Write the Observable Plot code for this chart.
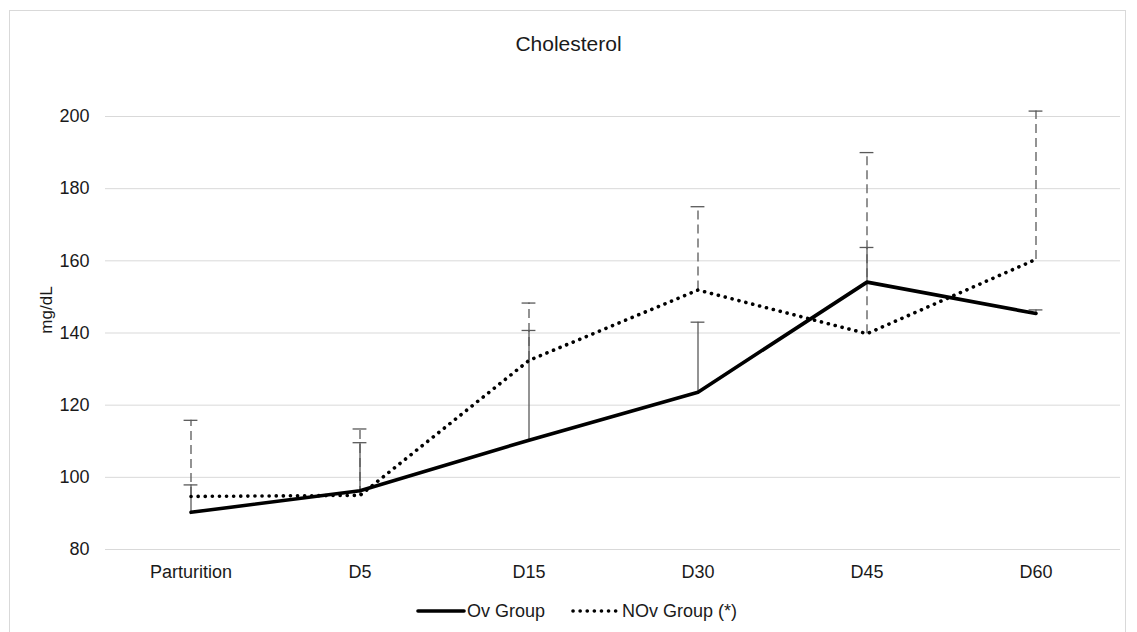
<!DOCTYPE html>
<html>
<head>
<meta charset="utf-8">
<script src="https://cdn.jsdelivr.net/npm/d3@7"></script>
<script src="https://cdn.jsdelivr.net/npm/@observablehq/plot@0.6"></script>
<style>
  html, body { margin: 0; padding: 0; background: #fff; }
  #wrap { position: relative; width: 1137px; height: 632px; overflow: hidden; font-family: "Liberation Sans", Arial, sans-serif; }
  #frame { position: absolute; left: 9px; top: 10px; width: 1117px; height: 640px; border: 1px solid #d9d9d9; box-sizing: border-box; pointer-events: none; }
  #title { position: absolute; left: 0; width: 1137px; top: 32px; text-align: center; font-size: 21px; color: #1a1a1a; }
  #ylab { position: absolute; left: 47px; top: 310px; transform: translate(-50%, -50%) rotate(-90deg); font-size: 17px; color: #1a1a1a; white-space: nowrap; }
  #legend { position: absolute; top: 599px; left: 0; width: 1137px; height: 24px; font-size: 18px; color: #1a1a1a; }
  .lg { position: absolute; top: 0; display: flex; align-items: center; height: 24px; }
  #chart { position: absolute; left: 0; top: 0; }
</style>
</head>
<body>
<div id="wrap">
  <div id="chart"></div>
  <div id="frame"></div>
  <div id="title">Cholesterol</div>
  <div id="ylab">mg/dL</div>
  <div id="legend"></div>
</div>
<script>
const categories = ["Parturition", "D5", "D15", "D30", "D45", "D60"];
const ovMean   = [90.3, 96.3, 110.3, 123.6, 154.1, 145.4];
const ovUpper  = [97.9, 109.6, 140.7, 143.0, 163.7, 146.4];
const novMean  = [94.7, 95.0, 132.4, 151.9, 139.8, 160.4];
const novUpper = [115.8, 113.4, 148.3, 175.0, 190.0, 201.5];
const yTicks = [80, 100, 120, 140, 160, 180, 200];
const seriesNames = ["Ov Group", "NOv Group (*)"];

const ov = categories.map((c, i) => ({cat: c, mean: ovMean[i], upper: ovUpper[i]}));
const nov = categories.map((c, i) => ({cat: c, mean: novMean[i], upper: novUpper[i]}));

const W = 1137, H = 632;
const mL = 105, mR = 17, mT = 116, mB = 83;
const bw = (W - mL - mR) / categories.length;
const capHalf = 7;
const capInset = bw / 2 - capHalf;

const chart = Plot.plot({
  width: W,
  height: H,
  marginLeft: mL,
  marginRight: mR,
  marginTop: mT,
  marginBottom: mB,
  style: {fontFamily: "Liberation Sans, Arial, sans-serif", fontSize: "18px", color: "#1a1a1a", background: "transparent", overflow: "visible"},
  x: {type: "band", domain: categories, padding: 0, label: null},
  y: {domain: [80, 200], label: null},
  marks: [
    Plot.gridY(yTicks, {stroke: "#d9d9d9", strokeOpacity: 1, strokeWidth: 1}),
    Plot.axisY(yTicks, {tickSize: 0, tickPadding: 16, fontSize: 18, label: null}),
    Plot.axisX({tickSize: 0, tickPadding: 16, fontSize: 18, label: null}),
    // NOv error bars (dashed)
    Plot.ruleX(nov, {x: "cat", y1: "mean", y2: "upper", stroke: "#595959", strokeWidth: 1.3, strokeDasharray: "9,5"}),
    Plot.tickY(nov, {x: "cat", y: "upper", stroke: "#595959", strokeWidth: 1.3, insetLeft: capInset, insetRight: capInset}),
    // Ov error bars (solid)
    Plot.ruleX(ov, {x: "cat", y1: "mean", y2: "upper", stroke: "#595959", strokeWidth: 1.3}),
    Plot.tickY(ov, {x: "cat", y: "upper", stroke: "#595959", strokeWidth: 1.3, insetLeft: capInset, insetRight: capInset}),
    // lines
    Plot.line(nov, {x: "cat", y: "mean", stroke: "#000", strokeWidth: 3.6, strokeDasharray: "0.1,7", strokeLinecap: "round"}),
    Plot.line(ov, {x: "cat", y: "mean", stroke: "#000", strokeWidth: 3.6, strokeLinejoin: "round"})
  ]
});
document.getElementById("chart").appendChild(chart);

// legend
const legend = document.getElementById("legend");
const items = [
  {name: seriesNames[0], left: 416, dash: null},
  {name: seriesNames[1], left: 571, dash: "0.1,7"}
];
for (const it of items) {
  const d = document.createElement("div");
  d.className = "lg";
  d.style.left = it.left + "px";
  const svg = d3.create("svg").attr("width", 50).attr("height", 24);
  svg.append("line").attr("x1", 2).attr("x2", 48).attr("y1", 12).attr("y2", 12)
    .attr("stroke", "#000").attr("stroke-width", 3.6)
    .attr("stroke-linecap", "round")
    .attr("stroke-dasharray", it.dash);
  d.appendChild(svg.node());
  const s = document.createElement("span");
  s.textContent = it.name;
  s.style.marginLeft = "1px";
  d.appendChild(s);
  legend.appendChild(d);
}
</script>
</body>
</html>
